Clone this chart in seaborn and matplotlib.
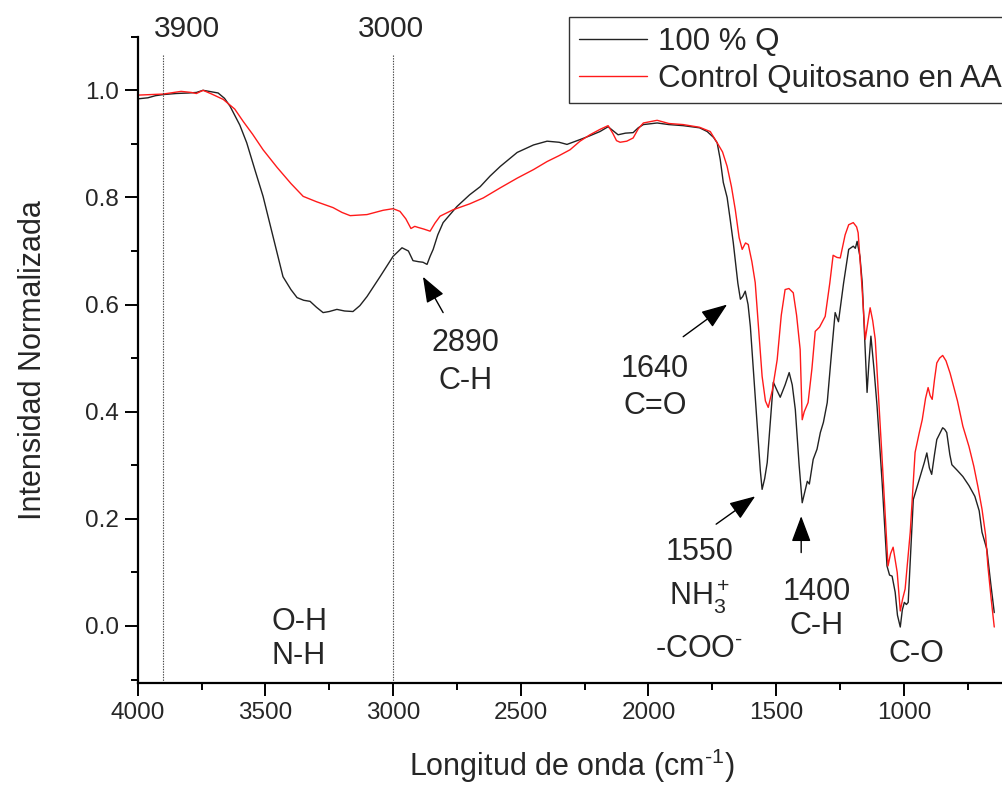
import matplotlib
matplotlib.use("Agg")
import matplotlib.pyplot as plt
import numpy as np
import seaborn as sns

# espectro 100 % Q (numero de onda, intensidad normalizada)
wn_q = [4000, 3960, 3930, 3900, 3850, 3800, 3770, 3744, 3710, 3685, 3660, 3638, 3600, 3573,
        3540, 3509, 3470, 3431, 3400, 3376, 3350, 3325, 3300, 3274, 3250, 3220, 3190, 3157,
        3130, 3102, 3051, 3000, 2965, 2940, 2922, 2900, 2883, 2867, 2855, 2843, 2825, 2804,
        2750, 2700, 2659, 2620, 2580, 2514, 2450, 2397, 2350, 2319, 2268, 2230, 2190, 2158,
        2140, 2119, 2090, 2060, 2040, 2020, 1966, 1920, 1864, 1800, 1770, 1745, 1731, 1719,
        1707, 1692, 1680, 1668, 1650, 1640, 1631, 1621, 1610, 1601, 1585, 1574, 1562, 1555,
        1545, 1535, 1520, 1511, 1497, 1484, 1465, 1449, 1437, 1425, 1410, 1398, 1388, 1378,
        1370, 1355, 1340, 1327, 1315, 1300, 1285, 1269, 1256, 1236, 1216, 1198, 1190, 1183,
        1172, 1163, 1150, 1144, 1137, 1129, 1117, 1105, 1085, 1066, 1056, 1046, 1034, 1025,
        1014, 1006, 998, 990, 983, 963, 936, 920, 910, 900, 891, 880, 871, 848, 840, 832,
        820, 812, 790, 769, 745, 722, 705, 694, 675, 660, 646]
int_q = [0.984, 0.986, 0.990, 0.992, 0.994, 0.995, 0.996, 1.000, 0.997, 0.995, 0.985, 0.970,
         0.935, 0.902, 0.850, 0.802, 0.727, 0.652, 0.628, 0.613, 0.608, 0.606, 0.595, 0.585,
         0.587, 0.591, 0.588, 0.587, 0.598, 0.615, 0.652, 0.690, 0.706, 0.700, 0.682, 0.680,
         0.679, 0.675, 0.690, 0.703, 0.730, 0.753, 0.783, 0.805, 0.820, 0.840, 0.858, 0.884,
         0.898, 0.905, 0.903, 0.899, 0.908, 0.915, 0.923, 0.932, 0.925, 0.917, 0.920, 0.921,
         0.930, 0.936, 0.939, 0.936, 0.934, 0.930, 0.923, 0.912, 0.902, 0.871, 0.828, 0.800,
         0.759, 0.716, 0.640, 0.610, 0.615, 0.625, 0.600, 0.559, 0.450, 0.373, 0.290, 0.255,
         0.275, 0.305, 0.400, 0.455, 0.440, 0.427, 0.450, 0.473, 0.450, 0.404, 0.300, 0.230,
         0.250, 0.270, 0.265, 0.311, 0.330, 0.361, 0.380, 0.417, 0.500, 0.585, 0.568, 0.640,
         0.703, 0.709, 0.705, 0.718, 0.690, 0.641, 0.500, 0.436, 0.490, 0.541, 0.480, 0.411,
         0.268, 0.112, 0.095, 0.093, 0.063, 0.020, -0.002, 0.030, 0.044, 0.040, 0.044, 0.236,
         0.279, 0.305, 0.323, 0.295, 0.283, 0.320, 0.348, 0.370, 0.367, 0.361, 0.320, 0.301,
         0.290, 0.279, 0.262, 0.242, 0.215, 0.175, 0.143, 0.080, 0.025]

# espectro control quitosano en acido acetico
wn_c = [4000, 3950, 3900, 3830, 3790, 3770, 3744, 3710, 3665, 3620, 3587, 3550, 3509, 3454,
        3400, 3352, 3300, 3235, 3200, 3168, 3102, 3039, 3000, 2973, 2950, 2930, 2915, 2902,
        2880, 2855, 2836, 2816, 2765, 2700, 2647, 2580, 2514, 2450, 2397, 2350, 2307, 2268,
        2229, 2190, 2158, 2140, 2125, 2111, 2085, 2060, 2040, 2020, 1966, 1920, 1864, 1800,
        1758, 1731, 1710, 1692, 1675, 1660, 1645, 1633, 1620, 1609, 1595, 1582, 1568, 1555,
        1542, 1531, 1515, 1496, 1480, 1465, 1450, 1433, 1420, 1406, 1398, 1390, 1375, 1360,
        1347, 1330, 1308, 1290, 1277, 1262, 1249, 1230, 1216, 1198, 1185, 1179, 1165, 1151,
        1140, 1132, 1122, 1112, 1085, 1062, 1052, 1042, 1033, 1026, 1014, 1005, 995, 975,
        956, 940, 928, 915, 905, 897, 889, 880, 871, 860, 848, 835, 819, 790, 769, 745, 726,
        710, 694, 680, 671, 658, 646]
int_c = [0.991, 0.992, 0.993, 0.998, 0.996, 0.994, 1.000, 0.993, 0.983, 0.965, 0.942, 0.918,
         0.889, 0.856, 0.826, 0.802, 0.792, 0.781, 0.772, 0.766, 0.768, 0.776, 0.779, 0.774,
         0.760, 0.742, 0.746, 0.744, 0.741, 0.737, 0.752, 0.765, 0.777, 0.788, 0.799, 0.818,
         0.836, 0.852, 0.867, 0.878, 0.889, 0.905, 0.917, 0.927, 0.934, 0.920, 0.906, 0.903,
         0.905, 0.911, 0.928, 0.939, 0.944, 0.938, 0.936, 0.931, 0.923, 0.902, 0.885, 0.858,
         0.820, 0.777, 0.725, 0.703, 0.715, 0.712, 0.680, 0.641, 0.550, 0.466, 0.420, 0.408,
         0.440, 0.497, 0.580, 0.628, 0.630, 0.622, 0.580, 0.516, 0.385, 0.400, 0.417, 0.480,
         0.550, 0.558, 0.578, 0.640, 0.692, 0.688, 0.687, 0.730, 0.749, 0.753, 0.745, 0.734,
         0.640, 0.535, 0.570, 0.594, 0.570, 0.535, 0.311, 0.112, 0.135, 0.147, 0.120, 0.100,
         0.028, 0.050, 0.069, 0.175, 0.324, 0.360, 0.385, 0.425, 0.445, 0.430, 0.423, 0.460,
         0.491, 0.500, 0.505, 0.495, 0.472, 0.420, 0.373, 0.335, 0.298, 0.260, 0.218, 0.170,
         0.112, 0.050, -0.002]

ref_lines = [3900, 3000]
ref_labels = ["3900", "3000"]

sns.set_style("ticks")
plt.rcParams['font.family'] = ['Liberation Sans', 'DejaVu Sans']
plt.rcParams['mathtext.fontset'] = 'custom'
plt.rcParams['mathtext.rm'] = 'Liberation Sans'
plt.rcParams['mathtext.it'] = 'Liberation Sans:italic'

fig = plt.figure(figsize=(10.02, 7.85), dpi=100)
ax = fig.add_axes([0.1374, 0.1296, 0.8666, 0.8236])

sns.lineplot(x=wn_q, y=int_q, color='#222222', lw=1.0, label='100 % Q', ax=ax,
             sort=False, estimator=None)
sns.lineplot(x=wn_c, y=int_c, color='#ff1a1a', lw=1.0, label='Control Quitosano en AA', ax=ax,
             sort=False, estimator=None)

ax.set_xlim(4000, 600)
ax.set_ylim(-0.107, 1.1)

# lineas de referencia punteadas
ax.vlines(ref_lines, -0.107, 1.067, colors='#444444', linestyles=(0, (1.2, 1.2)), lw=0.8)
for xv, txt in zip([3807, 3008], ref_labels):
    ax.text(xv, 1.115, txt, fontsize=21.5, ha='center', va='center', clip_on=False)

ax.set_xticks([4000, 3500, 3000, 2500, 2000, 1500, 1000])
ax.set_xticks(np.arange(3750, 600, -500), minor=True)
ax.set_yticks([0.0, 0.2, 0.4, 0.6, 0.8, 1.0])
ax.set_yticks([-0.1, 0.1, 0.3, 0.5, 0.7, 0.9, 1.1], minor=True)
ax.tick_params(which='major', length=9.5, width=1.4, labelsize=17.5, pad=4, color='black')
ax.tick_params(which='minor', length=5, width=1.4, color='black')
for s in ['left', 'bottom']:
    ax.spines[s].set_linewidth(1.6)
    ax.spines[s].set_color('black')
sns.despine(ax=ax)

ax.set_xlabel('Longitud de onda (cm$^{\\text{-1}}$)', fontsize=22)
ax.set_ylabel('Intensidad Normalizada', fontsize=22)
ax.xaxis.set_label_coords(0.5, -0.098)
ax.yaxis.set_label_coords(-0.103, 0.5)

# anotaciones de bandas
tkw = dict(fontsize=22, ha='center', va='center')
ax.text(3368, 0.007, 'O-H', **tkw)
ax.text(3368, -0.0565, 'N-H', **tkw)
ax.text(2718, 0.529, '2890', **tkw)
ax.text(2718, 0.458, 'C-H', **tkw)
ax.text(1974, 0.479, '1640', **tkw)
ax.text(1974, 0.410, 'C=O', **tkw)
ax.text(1801, 0.1375, '1550', **tkw)
ax.text(1801, 0.0554, 'NH$_3^+$', **tkw)
ax.text(1801, -0.0435, '-COO$^{\\text{-}}$', **tkw)
ax.text(1343, 0.063, '1400', **tkw)
ax.text(1343, 0.000, 'C-H', **tkw)
ax.text(951, -0.053, 'C-O', **tkw)

akw = dict(arrowstyle='-|>,head_length=0.8,head_width=0.3', color='black', lw=1.0,
           mutation_scale=20, shrinkA=0, shrinkB=0)
ax.annotate('', xy=(2883, 0.652), xytext=(2804, 0.585), arrowprops=akw)
ax.annotate('', xy=(1692, 0.600), xytext=(1864, 0.540), arrowprops=akw)
ax.annotate('', xy=(1582, 0.242), xytext=(1735, 0.190), arrowprops=akw)
ax.annotate('', xy=(1402, 0.205), xytext=(1402, 0.137), arrowprops=akw)

leg = ax.legend(loc='upper left', bbox_to_anchor=(0.568, 0.978), bbox_transform=fig.transFigure,
                fontsize=22.5, frameon=True, fancybox=False, framealpha=1, handlelength=2.2,
                handletextpad=0.35, borderpad=0.3, labelspacing=0.22, borderaxespad=0)
leg.get_frame().set_edgecolor('#333333')
leg.get_frame().set_linewidth(1.0)

plt.savefig('out.png', dpi=100)
